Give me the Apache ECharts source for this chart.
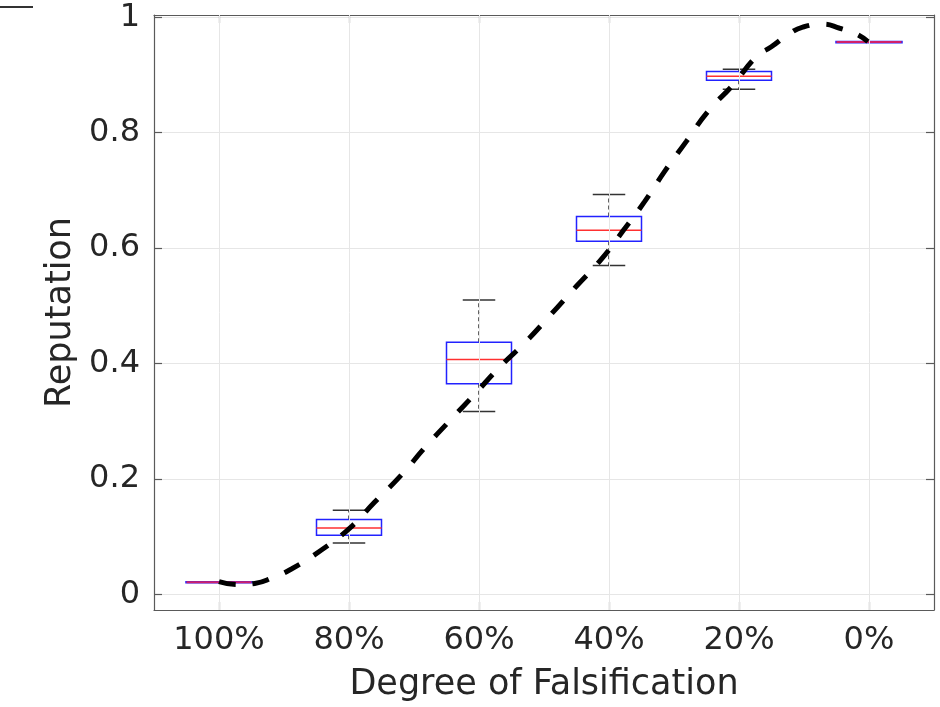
<!DOCTYPE html>
<html>
<head>
<meta charset="utf-8">
<script src="https://cdn.jsdelivr.net/npm/echarts@6/dist/echarts.min.js"></script>
<style>html,body{margin:0;padding:0;background:#fff}#c{width:940px;height:707px}</style>
</head>
<body>
<div id="c"></div>
<script>
// categories (degree of falsification)
const categories = ['100%', '80%', '60%', '40%', '20%', '0%'];
// box statistics per category: [lower whisker, Q1, median, Q3, upper whisker]
const boxLow    = [0.021, 0.089, 0.317, 0.570, 0.8755, 0.957];
const boxQ1     = [0.021, 0.1025, 0.365, 0.612, 0.891, 0.957];
const boxMedian = [0.021, 0.115, 0.407, 0.631, 0.898, 0.957];
const boxQ3     = [0.021, 0.130, 0.437, 0.655, 0.906, 0.957];
const boxHigh   = [0.021, 0.146, 0.510, 0.693, 0.910, 0.957];
// fitted dashed curve (x position 1..6 = category position)
const curveX = [1.000, 1.142, 1.275, 1.413, 1.557, 1.788, 2.006, 2.198, 2.403, 2.582, 2.775, 2.967, 3.159, 3.365, 3.557, 3.749, 3.942, 4.108, 4.275, 4.428, 4.595, 4.762, 4.954, 5.134, 5.249, 5.390, 5.490, 5.646, 5.775, 5.903, 5.992];
const curveY = [0.022, 0.017, 0.019, 0.029, 0.044, 0.077, 0.115, 0.160, 0.207, 0.254, 0.301, 0.347, 0.394, 0.439, 0.486, 0.534, 0.581, 0.630, 0.681, 0.733, 0.785, 0.837, 0.883, 0.932, 0.949, 0.972, 0.983, 0.988, 0.981, 0.971, 0.958];
// y tick values
const yTicks = [0, 0.2, 0.4, 0.6, 0.8, 1];

const FONT = 'DejaVu Sans';
const TXT = '#262626';
const AXC = '#5a5a5a';

const boxData = categories.map((c, i) => [i, boxLow[i], boxQ1[i], boxMedian[i], boxQ3[i], boxHigh[i]]);
const curveData = curveX.map((x, i) => [x, curveY[i]]);

function renderBox(params, api) {
  const idx = api.value(0);
  const bw = api.size([1, 0])[0] * 0.5;
  const cw = bw * 0.5;
  const pLow = api.coord([idx, api.value(1)]);
  const pQ1 = api.coord([idx, api.value(2)]);
  const pMed = api.coord([idx, api.value(3)]);
  const pQ3 = api.coord([idx, api.value(4)]);
  const pHigh = api.coord([idx, api.value(5)]);
  const x = pMed[0];
  const wh = {stroke: '#111', lineWidth: 1.3, lineDash: [4, 3]};
  const cap = {stroke: '#333', lineWidth: 1.5};
  const flat = pQ1[1] - pQ3[1] < 1;
  return {
    type: 'group',
    children: [
      {type: 'line', shape: {x1: x, y1: pQ3[1], x2: x, y2: pHigh[1]}, style: wh},
      {type: 'line', shape: {x1: x, y1: pQ1[1], x2: x, y2: pLow[1]}, style: wh},
      {type: 'line', shape: {x1: x - cw / 2, y1: pHigh[1], x2: x + cw / 2, y2: pHigh[1]}, style: cap},
      {type: 'line', shape: {x1: x - cw / 2, y1: pLow[1], x2: x + cw / 2, y2: pLow[1]}, style: cap},
      {type: 'rect', shape: {x: x - bw / 2, y: pQ3[1], width: bw, height: Math.max(pQ1[1] - pQ3[1], 0.01)},
        style: {fill: 'none', stroke: '#2222ff', lineWidth: flat ? 2.5 : 1.5}},
      {type: 'line', shape: {x1: x - bw / 2, y1: pMed[1], x2: x + bw / 2, y2: pMed[1]},
        style: {stroke: flat ? '#d0206a' : '#ff3030', lineWidth: flat ? 2 : 1.5}}
    ]
  };
}

const chart = echarts.init(document.getElementById('c'), null, {renderer: 'canvas'});
chart.setOption({
  backgroundColor: '#fff',
  animation: false,
  grid: {left: 154, top: 15, right: 6, bottom: 95, containLabel: false},
  xAxis: [
    {
      type: 'category', data: categories, boundaryGap: true, position: 'bottom',
      name: 'Degree of Falsification', nameLocation: 'middle', nameGap: 57,
      nameTextStyle: {fontFamily: FONT, fontSize: 35, color: TXT},
      axisLine: {show: true, onZero: false, lineStyle: {color: AXC, width: 1.2}},
      axisTick: {show: true, inside: true, alignWithLabel: true, length: 8, lineStyle: {color: AXC, width: 1.2}},
      axisLabel: {fontFamily: FONT, fontSize: 32, color: TXT, margin: 15},
      splitLine: {show: false}
    },
    {
      type: 'value', min: 0.5, max: 6.5, show: false,
      axisLine: {onZero: false},
      splitLine: {show: false}
    },
    {
      type: 'category', data: categories, boundaryGap: true, position: 'top',
      axisLine: {show: true, onZero: false, lineStyle: {color: AXC, width: 1.2}},
      axisTick: {show: true, inside: true, alignWithLabel: true, length: 8, lineStyle: {color: AXC, width: 1.2}},
      axisLabel: {show: false},
      splitLine: {show: false}
    }
  ],
  yAxis: [
    {
      type: 'value', min: -0.027, max: 1.004, position: 'left',
      name: 'Reputation', nameLocation: 'middle', nameGap: 75, nameRotate: 90,
      nameTextStyle: {fontFamily: FONT, fontSize: 35, color: TXT},
      axisLine: {show: true, onZero: false, lineStyle: {color: AXC, width: 1.2}},
      axisTick: {show: true, inside: true, length: 8, customValues: yTicks, lineStyle: {color: AXC, width: 1.2}},
      axisLabel: {fontFamily: FONT, fontSize: 32, color: TXT, margin: 14, customValues: yTicks},
      splitLine: {show: true, lineStyle: {color: '#e6e6e6', width: 1}}
    },
    {
      type: 'value', min: -0.027, max: 1.004, position: 'right',
      axisLine: {show: true, onZero: false, lineStyle: {color: AXC, width: 1.2}},
      axisTick: {show: true, inside: true, length: 8, customValues: yTicks, lineStyle: {color: AXC, width: 1.2}},
      axisLabel: {show: false, customValues: yTicks},
      splitLine: {show: false}
    }
  ],
  graphic: [
    {type: 'line', shape: {x1: 0, y1: 7, x2: 33, y2: 7}, style: {stroke: '#333', lineWidth: 2}}
  ],
  series: [
    {
      type: 'line', xAxisIndex: 1, yAxisIndex: 0, data: [], silent: true,
      markLine: {
        silent: true, symbol: 'none', label: {show: false},
        lineStyle: {color: '#e6e6e6', width: 1, type: 'solid'},
        data: [1, 2, 3, 4, 5, 6].map(v => ({xAxis: v}))
      },
      z: 1
    },
    {
      type: 'custom', xAxisIndex: 0, yAxisIndex: 0, data: boxData, renderItem: renderBox,
      encode: {x: 0, y: [1, 2, 3, 4, 5]}, silent: true, z: 3
    },
    {
      type: 'line', xAxisIndex: 1, yAxisIndex: 0, data: curveData, smooth: 0.5,
      showSymbol: false, silent: true,
      lineStyle: {color: '#000', width: 5, type: [17, 17], cap: 'butt'}, z: 5
    }
  ]
});
</script>
</body>
</html>
